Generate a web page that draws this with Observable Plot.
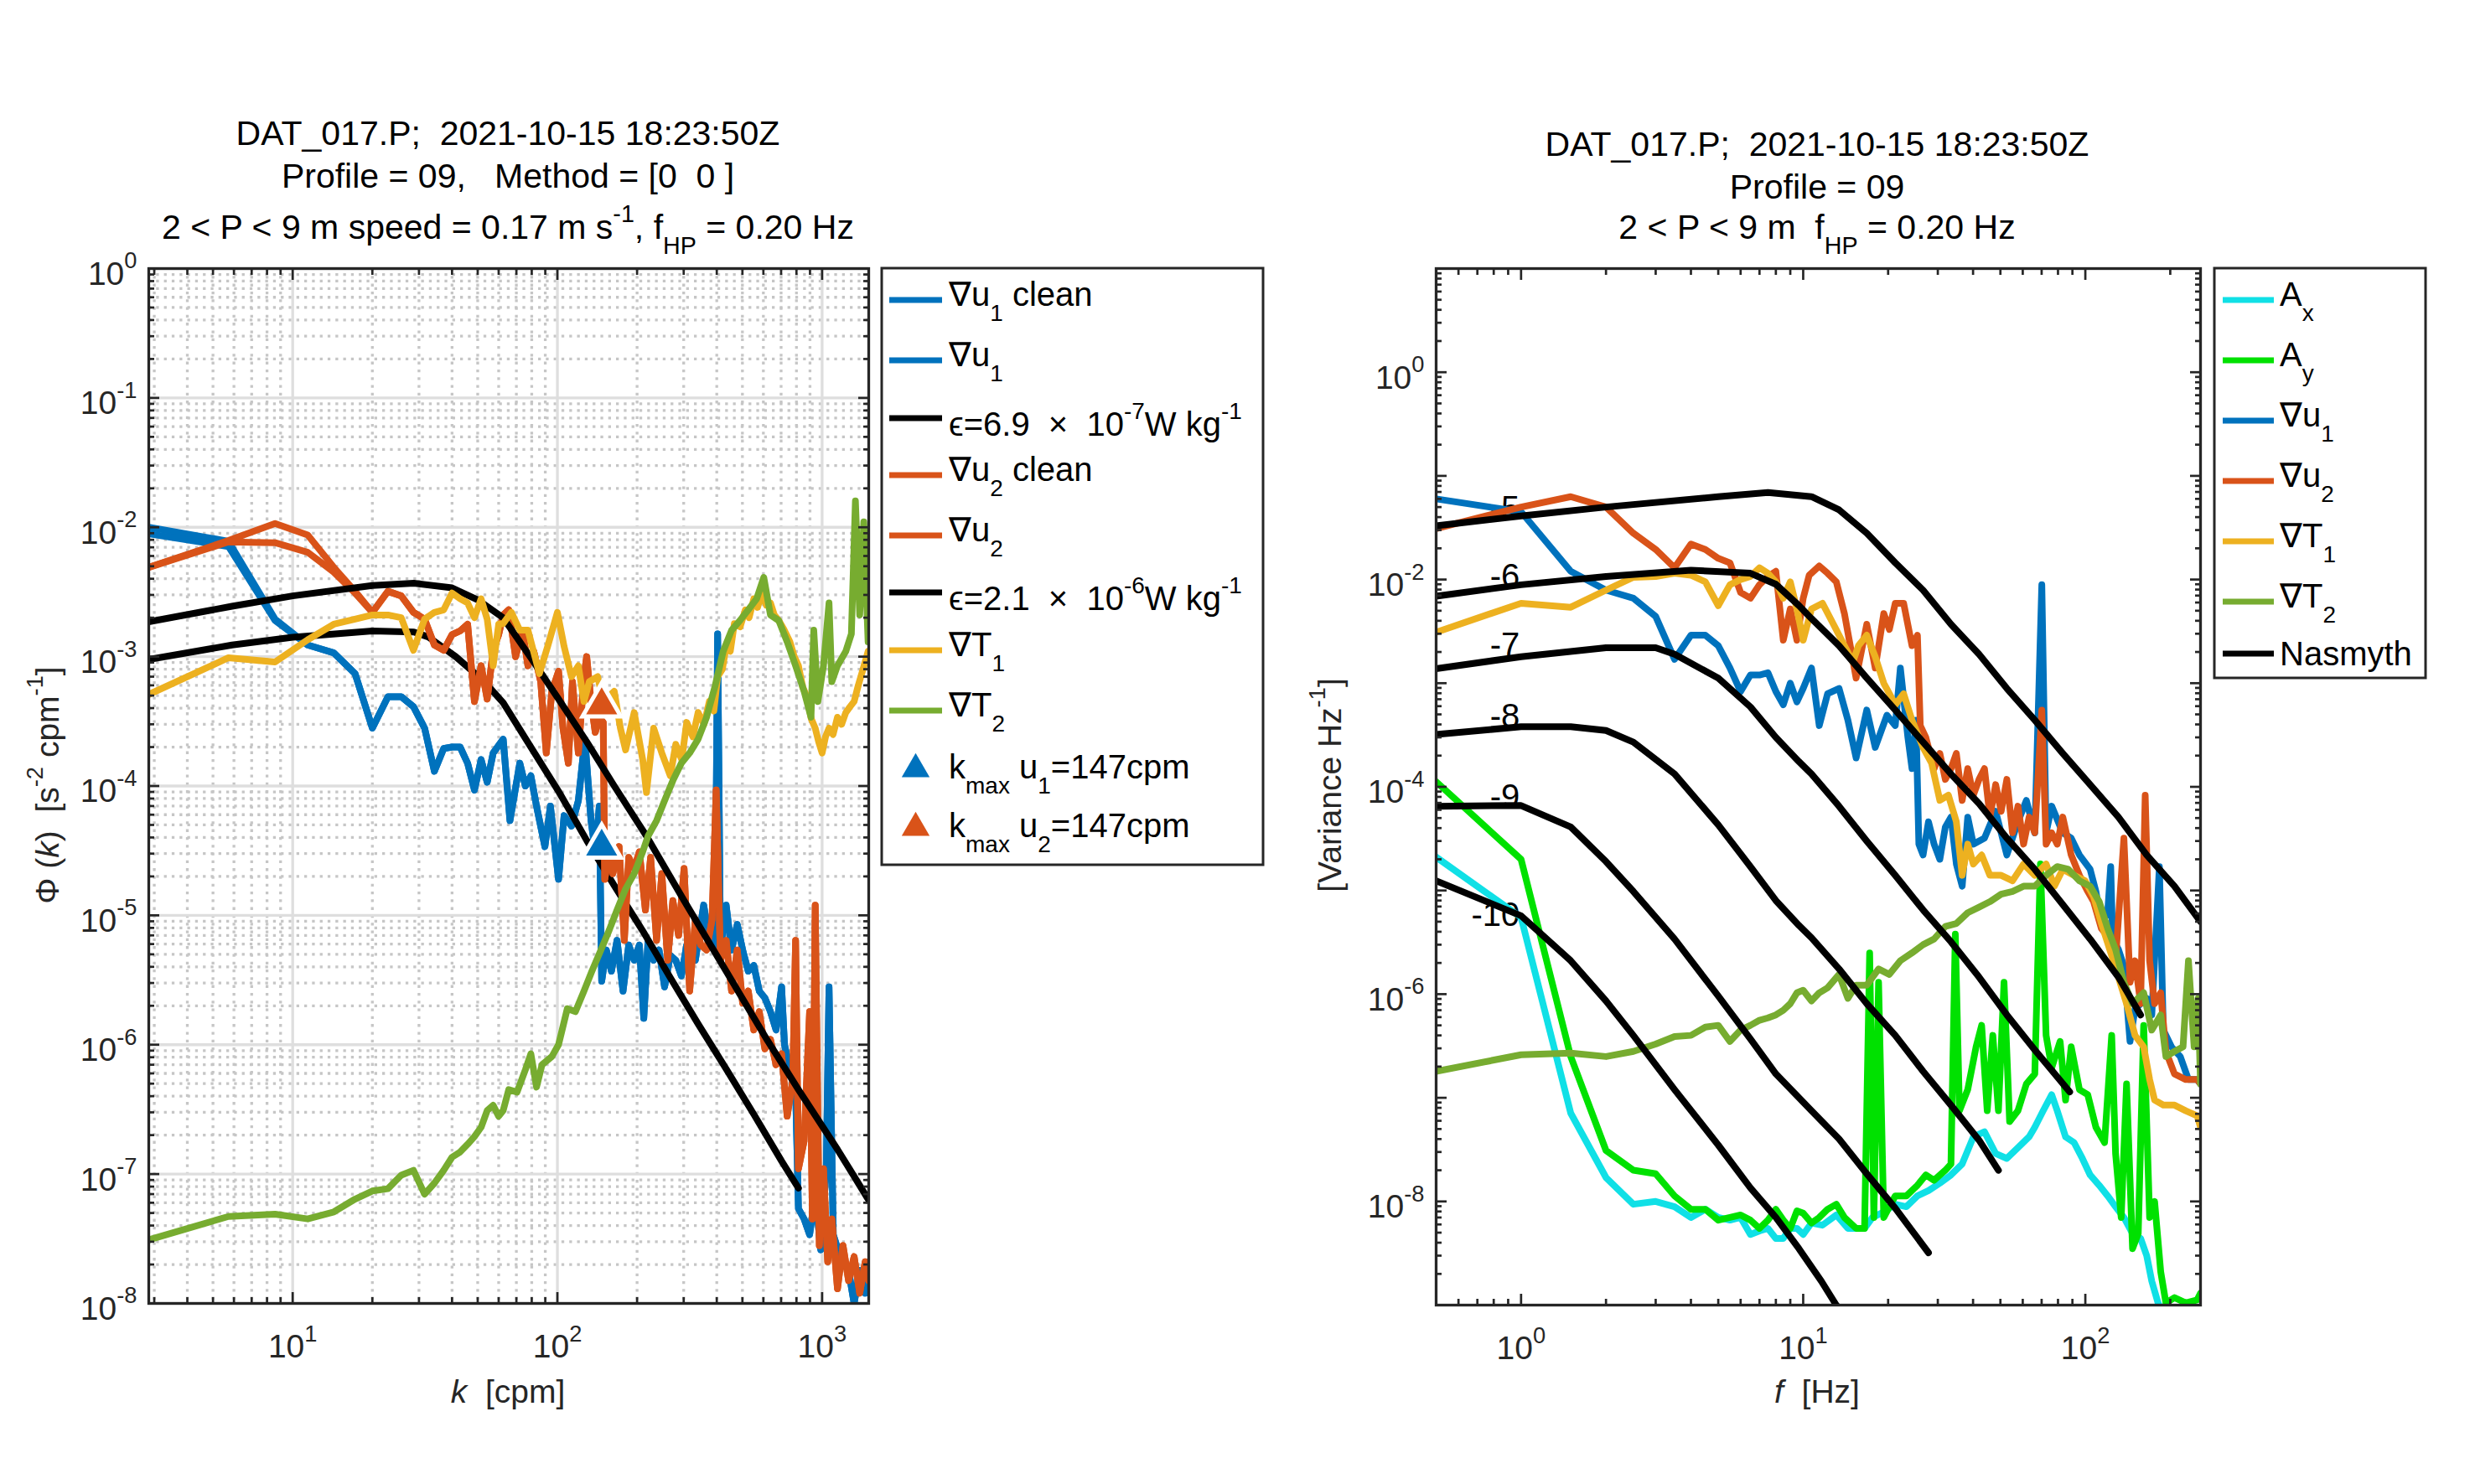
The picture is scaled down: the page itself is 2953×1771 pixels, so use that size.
<!DOCTYPE html>
<html><head><meta charset="utf-8">
<script src="https://cdn.jsdelivr.net/npm/d3@7"></script>
<script src="https://cdn.jsdelivr.net/npm/@observablehq/plot@0.6"></script>
<style>
html,body{margin:0;padding:0;background:#fff;}
#page{position:relative;width:2953px;height:1771px;overflow:hidden;background:#fff;}
#page svg{position:absolute;top:0;}
</style></head><body><div id="page"></div>
<script>
// ================= DATA =================
// ---- Left panel: shear / temperature-gradient wavenumber spectra, [k (cpm), Phi] ----
const u1Clean = [[2.86,1.0e-2],[5.72,7.8e-3],[8.58,1.95e-3],[11.4,1.23e-3],[14.3,1.07e-3],[17.2,7.4e-4],[20.0,2.8e-4],[22.9,4.9e-4],[25.7,4.9e-4],[28.6,4.1e-4],[31.5,2.8e-4],[34.3,1.3e-4],[37.2,1.95e-4],[40.0,2.0e-4],[42.9,2.0e-4],[45.8,1.5e-4],[48.6,9.3e-5],[51.5,1.6e-4],[54.3,1.07e-4],[57.2,1.8e-4],[62.4,2.3e-4],[66.2,5.4e-5],[72.1,1.5e-4],[75.7,1.0e-4],[79.4,1.2e-4],[83.4,7.0e-5],[89.7,3.4e-5],[94.1,7.0e-5],[101,1.9e-5],[106,5.9e-5],[113,4.9e-5],[120,7.7e-5],[127,2.3e-4],[134,5.4e-5],[139,3.1e-5],[144,7.0e-5],[147,3.1e-6],[153,5.4e-6],[160,3.7e-6],[168,6.4e-6],[177,2.6e-6],[186,5.9e-6],[195,4.5e-6],[204,5.9e-6],[212,1.6e-6],[220,6.4e-6],[231,4.5e-6],[242,5.4e-6],[254,2.8e-6],[267,4.9e-6],[280,4.5e-6],[294,3.4e-6],[308,5.9e-6],[332,4.5e-6],[357,1.2e-5],[375,6.4e-6],[394,5.4e-6],[403,1.5e-3],[413,5.4e-6],[434,1.2e-5],[455,5.4e-6],[478,8.5e-6],[501,5.4e-6],[526,3.7e-6],[552,4.1e-6],[579,2.6e-6],[608,2.3e-6],[638,1.8e-6],[670,1.3e-6],[703,2.8e-6],[721,1.0e-6],[756,6.4e-7],[794,4.5e-7],[814,5.4e-8],[855,4.5e-8],[897,3.4e-8],[942,7.0e-8],[988,2.6e-8],[1037,1.1e-7],[1062,2.8e-6],[1102,3.4e-8],[1170,2.3e-8],[1259,1.8e-8],[1321,1.0e-8],[1387,1.8e-8],[1455,1.2e-8],[1500,2.1e-8]];
const u1RawLow = [[2.86,8.9e-3],[5.72,7.1e-3],[8.58,1.9e-3]];
const u2Clean = [[2.86,4.9e-3],[5.72,7.9e-3],[8.58,1.07e-2],[11.4,8.7e-3],[14.3,4.9e-3],[17.2,3.2e-3],[20.0,2.2e-3],[22.9,3.2e-3],[25.7,2.95e-3],[28.6,2.2e-3],[31.5,1.95e-3],[34.3,1.23e-3],[37.2,1.12e-3],[40.0,1.48e-3],[42.9,1.58e-3],[45.8,1.78e-3],[48.6,4.5e-4],[51.5,8.5e-4],[54.3,4.7e-4],[57.2,1.12e-3],[60.0,1.48e-3],[62.4,2.1e-3],[65.5,2.3e-3],[69.5,1.0e-3],[73.8,1.6e-3],[77.4,8.5e-4],[81.4,1.1e-3],[86.5,6.4e-4],[90.8,1.8e-4],[95.3,5.4e-4],[101,7.7e-4],[105,2.8e-4],[110,1.5e-4],[114,6.4e-4],[120,1.8e-4],[126,7.0e-4],[129,1.0e-3],[134,4.5e-4],[139,2.6e-4],[144,3.4e-4],[149,3.1e-4],[151,1.9e-5],[157,3.1e-5],[162,2.1e-5],[171,3.4e-5],[179,6.4e-6],[186,2.8e-5],[195,2.3e-5],[204,3.1e-5],[215,1.1e-5],[225,2.8e-5],[237,6.4e-6],[248,2.1e-5],[261,4.5e-6],[273,1.3e-5],[287,7.0e-6],[301,2.3e-5],[316,2.6e-6],[332,9.3e-6],[348,5.9e-6],[366,5.4e-6],[384,9.3e-6],[398,9.3e-5],[413,4.5e-6],[434,6.4e-6],[455,2.6e-6],[478,5.4e-6],[501,2.1e-6],[526,2.6e-6],[552,1.3e-6],[579,1.8e-6],[608,9.3e-7],[638,1.1e-6],[670,7.0e-7],[703,8.5e-7],[738,2.8e-7],[775,5.4e-7],[794,6.4e-6],[814,1.1e-7],[855,1.8e-7],[897,1.8e-6],[919,4.5e-8],[942,1.2e-5],[976,2.8e-8],[1012,1.1e-7],[1050,2.1e-8],[1088,4.5e-8],[1143,1.3e-8],[1199,2.8e-8],[1259,1.5e-8],[1321,2.3e-8],[1387,1.2e-8],[1455,2.1e-8],[1500,1.5e-8]];
const u2RawLow = [[2.86,4.9e-3],[5.72,7.7e-3],[8.58,7.6e-3],[11.4,6.4e-3],[14.3,4.5e-3],[17.2,3.1e-3]];
const t1Left = [[2.86,5.1e-4],[5.72,9.8e-4],[8.58,9.1e-4],[11.4,1.35e-3],[14.3,1.78e-3],[17.2,1.95e-3],[20.0,2.1e-3],[22.9,2.1e-3],[25.7,2.0e-3],[28.6,1.12e-3],[31.5,1.95e-3],[34.3,2.2e-3],[37.2,2.3e-3],[40.0,3.1e-3],[42.9,2.8e-3],[45.8,2.6e-3],[48.6,2.0e-3],[51.5,2.8e-3],[54.3,1.95e-3],[57.2,8.5e-4],[60.0,1.78e-3],[62.4,1.8e-3],[67,2.2e-3],[72.1,1.6e-3],[77.4,1.6e-3],[85.5,7.4e-4],[91.9,1.2e-3],[100,2.2e-3],[106,1.2e-3],[113,7.0e-4],[120,8.5e-4],[126,4.5e-4],[132,6.4e-4],[142,7.0e-4],[149,4.5e-4],[164,5.4e-4],[173,2.8e-4],[181,1.9e-4],[195,3.7e-4],[210,1.6e-4],[217,8.9e-5],[231,2.8e-4],[248,1.8e-4],[267,1.2e-4],[280,2.1e-4],[295,1.6e-4],[308,3.1e-4],[325,2.4e-4],[340,3.7e-4],[358,3.0e-4],[375,4.5e-4],[390,3.8e-4],[403,7.0e-4],[420,8.0e-4],[434,1.2e-3],[450,1.1e-3],[466,1.8e-3],[490,1.7e-3],[513,2.3e-3],[530,2.0e-3],[552,2.8e-3],[570,2.4e-3],[593,3.1e-3],[615,2.5e-3],[638,2.6e-3],[660,2.1e-3],[686,1.9e-3],[720,1.6e-3],[756,1.3e-3],[785,1.0e-3],[814,8.5e-4],[845,5.8e-4],[876,4.9e-4],[910,3.3e-4],[942,2.8e-4],[970,2.2e-4],[1000,1.8e-4],[1030,2.4e-4],[1062,2.8e-4],[1100,2.5e-4],[1143,3.4e-4],[1185,3.0e-4],[1229,3.7e-4],[1275,4.1e-4],[1321,4.5e-4],[1370,6.0e-4],[1420,7.7e-4],[1492,1.1e-3]];
const t2Left = [[2.86,3.1e-8],[5.72,4.7e-8],[8.58,4.9e-8],[11.4,4.5e-8],[14.3,5.1e-8],[17.2,6.4e-8],[20.0,7.4e-8],[22.9,7.7e-8],[25.7,9.8e-8],[28.6,1.07e-7],[31.5,7.0e-8],[34.3,8.5e-8],[37.2,1.07e-7],[40.0,1.35e-7],[42.9,1.48e-7],[45.8,1.7e-7],[48.6,1.95e-7],[51.5,2.3e-7],[54.3,3.1e-7],[57.2,3.4e-7],[60.0,2.8e-7],[62.4,3.1e-7],[65.5,4.5e-7],[70.4,4.3e-7],[75.7,6.4e-7],[79.4,8.5e-7],[83.4,4.7e-7],[87.5,7.0e-7],[95.3,8.1e-7],[101,1.0e-6],[109,1.9e-6],[117,1.8e-6],[126,2.6e-6],[135,3.7e-6],[146,5.4e-6],[157,7.7e-6],[168,1.1e-5],[181,1.6e-5],[195,2.1e-5],[210,3.1e-5],[220,4.1e-5],[237,5.4e-5],[254,7.7e-5],[273,1.1e-4],[294,1.5e-4],[316,1.8e-4],[340,2.3e-4],[366,3.4e-4],[394,5.9e-4],[423,1.1e-3],[455,1.6e-3],[489,1.9e-3],[526,2.3e-3],[566,2.8e-3],[602,4.1e-3],[638,2.1e-3],[686,1.9e-3],[738,1.3e-3],[794,8.5e-4],[855,5.4e-4],[908,3.4e-4],[930,1.6e-3],[964,4.5e-4],[1012,8.5e-4],[1062,2.6e-3],[1088,6.4e-4],[1143,8.5e-4],[1229,1.1e-3],[1290,1.5e-3],[1336,1.6e-2],[1387,2.1e-3],[1437,1.1e-2],[1492,1.3e-3]];
const eps1Left = [[2.86,9.5e-4],[5.9,1.23e-3],[10,1.41e-3],[20,1.58e-3],[28.7,1.55e-3],[32.5,1.42e-3],[41.3,1.0e-3],[52.6,6.5e-4],[62.4,4.4e-4],[79.4,2.0e-4],[101,9.1e-5],[129,3.8e-5],[164,1.7e-5],[210,7.6e-6],[267,3.3e-6],[340,1.45e-6],[434,6.5e-7],[552,2.9e-7],[703,1.26e-7],[814,7.8e-8]];
const eps2Left = [[2.86,1.86e-3],[5.9,2.45e-3],[10,2.95e-3],[20,3.55e-3],[28.7,3.7e-3],[40,3.4e-3],[50,2.75e-3],[62.4,2.0e-3],[79.4,9.8e-4],[101,4.7e-4],[129,2.2e-4],[164,1.0e-4],[217,4.1e-5],[301,1.3e-5],[434,3.7e-6],[623,1.07e-6],[814,4.5e-7],[1143,1.55e-7],[1492,6.4e-8]];
const kmaxU1 = [[147, 3.4e-5]];
const kmaxU2 = [[147, 4.2e-4]];

// ---- Right panel: frequency spectra, [f (Hz), variance/Hz] ----
const axRight = [[0.5,2.1e-5],[1.0,5.5e-6],[1.5,7.1e-8],[2.0,1.7e-8],[2.5,9.4e-9],[3.0,1.0e-8],[3.5,8.9e-9],[4.0,7.0e-9],[4.5,8.4e-9],[5.0,7.0e-9],[5.5,6.6e-9],[6.0,7.0e-9],[6.5,4.8e-9],[7.0,5.2e-9],[7.5,5.5e-9],[8.0,4.4e-9],[8.5,4.4e-9],[9.0,5.5e-9],[9.5,5.5e-9],[10,4.8e-9],[10.7,6.2e-9],[11.7,5.9e-9],[13.1,7.4e-9],[14.4,5.5e-9],[16.5,5.5e-9],[17.6,7.0e-9],[19.3,7.9e-9],[21.2,9.4e-9],[23.2,8.9e-9],[25.4,1.13e-8],[27.8,1.27e-8],[30.5,1.5e-8],[33.4,1.8e-8],[36.6,2.3e-8],[40.1,4.2e-8],[43.9,4.7e-8],[48.1,2.9e-8],[52.7,2.6e-8],[57.7,3.3e-8],[63.2,4.2e-8],[66.2,5.2e-8],[70.9,7.5e-8],[76.0,1.07e-7],[79.5,7.5e-8],[85.1,4.2e-8],[91.2,3.7e-8],[97.6,2.6e-8],[104,1.8e-8],[112,1.43e-8],[120,1.13e-8],[128,8.9e-9],[137,7.0e-9],[147,4.9e-9],[157,4.4e-9],[165,3.0e-9],[172,1.7e-9],[181,1.05e-9],[189,8.3e-10],[256,8.3e-10]];
const ayRight = [[0.5,1.12e-4],[1.0,2.0e-5],[1.5,2.5e-7],[2.0,3.1e-8],[2.5,2.0e-8],[3.0,1.85e-8],[3.5,1.13e-8],[4.0,8.4e-9],[4.5,8.4e-9],[5.0,6.6e-9],[5.5,7.0e-9],[6.0,7.4e-9],[6.5,6.6e-9],[7.0,5.5e-9],[7.5,6.6e-9],[8.0,8.4e-9],[8.5,6.6e-9],[9.0,5.5e-9],[9.5,8.1e-9],[10,7.7e-9],[10.7,6.2e-9],[11.4,7.0e-9],[12.2,8.4e-9],[13.1,9.4e-9],[14.0,7.0e-9],[15.4,5.5e-9],[16.5,5.5e-9],[17.2,2.5e-6],[17.8,7.0e-9],[18.5,1.3e-6],[19.3,7.0e-9],[20.2,8.9e-9],[21.2,1.13e-8],[23.2,1.13e-8],[25.4,1.43e-8],[27.2,1.8e-8],[29.1,1.6e-8],[31.9,2.0e-8],[33.4,2.3e-8],[34.6,3.8e-6],[35.8,7.5e-8],[38.3,1.2e-7],[41.0,3.1e-7],[42.9,5.0e-7],[44.9,7.5e-8],[47.0,4.0e-7],[49.2,7.5e-8],[51.5,1.3e-6],[53.9,5.9e-8],[57.7,7.5e-8],[61.8,1.36e-7],[66.2,1.7e-7],[69.3,1.8e-5],[72.6,4.0e-7],[76.0,1.95e-7],[81.4,3.5e-7],[85.1,9.5e-8],[89.1,3.1e-7],[95.3,1.2e-7],[102,1.07e-7],[109,5.2e-8],[117,3.7e-8],[124,4.0e-7],[128,2.9e-8],[134,7.0e-9],[140,1.36e-7],[147,3.5e-9],[154,4.9e-9],[161,5.0e-7],[169,7.0e-9],[176,1.0e-8],[185,2.1e-9],[193,1.05e-9],[207,1.18e-9],[227,1.05e-9],[249,1.12e-9],[256,1.3e-9]];
const u1Right = [[0.5,6.0e-2],[1.0,4.5e-2],[1.5,1.2e-2],[2.0,7.9e-3],[2.5,6.6e-3],[3.0,4.4e-3],[3.5,1.7e-3],[4.0,2.9e-3],[4.5,2.9e-3],[5.0,2.3e-3],[5.5,1.4e-3],[6.0,8.3e-4],[6.5,1.2e-3],[7.0,1.2e-3],[7.5,1.26e-3],[8.0,8.3e-4],[8.5,6.2e-4],[9.0,1.0e-3],[9.5,6.6e-4],[10,8.9e-4],[10.7,1.4e-3],[11.4,3.9e-4],[12.2,7.9e-4],[13.4,8.9e-4],[14.4,4.4e-4],[15.4,1.9e-4],[16.8,5.5e-4],[18.0,2.4e-4],[19.8,4.9e-4],[21.2,3.9e-4],[22.1,1.4e-3],[23.5,3.0e-4],[24.3,1.5e-4],[25.1,4.4e-4],[25.7,2.8e-5],[26.6,2.2e-5],[27.8,4.6e-5],[29.1,2.8e-5],[30.5,2.0e-5],[31.9,4.1e-5],[33.4,5.1e-5],[34.9,1.8e-5],[36.6,1.1e-5],[38.3,5.1e-5],[40.1,2.8e-5],[43.9,3.2e-5],[48.1,5.8e-5],[52.7,2.2e-5],[57.7,4.6e-5],[61.8,7.4e-5],[66.2,3.6e-5],[70.1,8.9e-3],[72.6,3.6e-5],[76.0,6.5e-5],[83.2,3.6e-5],[89.1,3.2e-5],[95.3,2.2e-5],[104,1.6e-5],[109,9.8e-6],[114,4.8e-6],[120,6.1e-6],[123,1.7e-5],[125,3.4e-6],[131,2.7e-6],[137,1.86e-6],[144,3.5e-7],[150,7.2e-7],[165,9.1e-7],[172,6.3e-7],[183,1.7e-5],[189,4.5e-7],[202,3.1e-7],[217,2.5e-7],[232,1.5e-7],[249,1.5e-7],[256,1.36e-7]];
const u2Right = [[0.5,3.1e-2],[1.0,5.0e-2],[1.5,6.3e-2],[2.0,5.0e-2],[2.5,2.8e-2],[3.0,1.95e-2],[3.5,1.3e-2],[4.0,2.2e-2],[4.5,1.95e-2],[5.0,1.6e-2],[5.5,1.45e-2],[6.0,7.5e-3],[6.5,6.6e-3],[7.0,8.9e-3],[7.5,1.07e-2],[8.0,1.2e-2],[8.5,2.6e-3],[9.0,5.2e-3],[9.5,2.6e-3],[10,6.6e-3],[10.5,1.1e-2],[11.4,1.35e-2],[12.2,1.15e-2],[13.1,9.5e-3],[14.0,4.7e-3],[15.4,1.12e-3],[16.8,3.7e-3],[18.0,1.4e-3],[19.3,4.7e-3],[20.2,3.3e-3],[21.2,5.9e-3],[22.7,5.9e-3],[24.3,2.3e-3],[25.4,2.9e-3],[26.0,3.9e-4],[27.2,3.0e-4],[29.1,1.5e-4],[30.5,2.1e-4],[31.9,1.18e-4],[33.4,1.5e-4],[34.9,2.1e-4],[36.6,7.4e-5],[38.3,1.5e-4],[40.1,8.3e-5],[42.0,1.18e-4],[43.9,1.5e-4],[45.9,5.1e-5],[48.1,1.05e-4],[50.3,5.8e-5],[52.7,1.18e-4],[55.2,3.6e-5],[57.7,6.5e-5],[60.4,2.8e-5],[63.2,5.1e-5],[66.2,3.6e-5],[70.1,5.5e-4],[72.6,2.8e-5],[76.0,3.6e-5],[79.5,2.8e-5],[83.2,5.1e-5],[89.1,2.2e-5],[95.3,1.4e-5],[102,9.8e-6],[107,7.8e-6],[114,4.3e-6],[122,3.4e-6],[128,2.1e-6],[137,3.2e-5],[144,1.3e-6],[150,2.1e-6],[157,8.1e-7],[163,8.3e-5],[169,2.1e-6],[176,8.1e-7],[185,1.03e-6],[193,2.8e-7],[207,1.7e-7],[227,1.5e-7],[249,1.5e-7],[256,1.36e-7]];
const t1Right = [[0.5,3.1e-3],[1.0,5.9e-3],[1.5,5.4e-3],[2.0,7.9e-3],[2.5,1.05e-2],[3.0,1.07e-2],[3.5,1.15e-2],[4.0,1.1e-2],[4.5,9.5e-3],[5.0,5.6e-3],[5.5,8.9e-3],[6.0,1.0e-2],[6.5,1.07e-2],[7.0,1.3e-2],[7.5,1.15e-2],[8.0,9.5e-3],[8.5,6.6e-3],[9.0,9.5e-3],[9.5,5.2e-3],[10,2.6e-3],[10.7,5.2e-3],[11.7,5.9e-3],[12.8,3.7e-3],[14.0,2.3e-3],[15.0,1.6e-3],[15.7,2.3e-3],[16.8,2.9e-3],[18.0,1.8e-3],[19.3,1.0e-3],[21.2,6.2e-4],[22.7,7.9e-4],[24.3,4.4e-4],[26.6,2.4e-4],[28.5,1.7e-4],[30.5,7.4e-5],[32.7,8.3e-5],[34.9,4.6e-5],[36.6,1.4e-5],[38.3,2.8e-5],[40.1,1.8e-5],[42.9,2.2e-5],[45.9,1.4e-5],[50.3,1.4e-5],[55.2,1.24e-5],[60.4,1.8e-5],[66.2,1.4e-5],[72.6,1.8e-5],[77.7,1.1e-5],[83.2,1.6e-5],[91.2,1.4e-5],[99.8,1.24e-5],[107,8.7e-6],[114,4.8e-6],[122,2.7e-6],[131,1.46e-6],[140,8.1e-7],[150,4.0e-7],[161,3.1e-7],[169,1.5e-7],[176,9.5e-8],[189,8.5e-8],[207,8.5e-8],[227,7.5e-8],[249,6.7e-8],[256,5.2e-8]];
const t2Right = [[0.5,1.8e-7],[1.0,2.6e-7],[1.5,2.7e-7],[2.0,2.5e-7],[2.5,2.8e-7],[3.0,3.3e-7],[3.5,3.9e-7],[4.0,4.0e-7],[4.5,4.8e-7],[5.0,5.0e-7],[5.5,3.5e-7],[6.0,4.5e-7],[6.5,5.0e-7],[7.0,5.6e-7],[7.5,5.9e-7],[8.0,6.3e-7],[8.5,7.0e-7],[9.0,8.1e-7],[9.5,1.03e-6],[10,1.09e-6],[10.7,8.6e-7],[11.4,1.03e-6],[12.2,1.15e-6],[13.4,1.55e-6],[14.4,9.1e-7],[15.4,1.22e-6],[16.8,1.22e-6],[18.5,1.75e-6],[20.2,1.55e-6],[22.1,2.1e-6],[24.3,2.5e-6],[26.6,3.0e-6],[29.1,3.4e-6],[31.9,4.5e-6],[34.9,4.8e-6],[38.3,6.1e-6],[42.0,6.9e-6],[45.9,7.8e-6],[50.3,9.2e-6],[55.2,9.8e-6],[60.4,1.1e-5],[66.2,1.1e-5],[72.6,1.4e-5],[79.5,1.7e-5],[87.1,1.6e-5],[95.3,1.24e-5],[104,1.1e-5],[112,7.8e-6],[120,4.3e-6],[128,2.7e-6],[137,1.3e-6],[147,8.1e-7],[161,1.03e-6],[172,4.5e-7],[185,6.3e-7],[193,2.5e-7],[207,2.8e-7],[222,3.1e-7],[232,2.1e-6],[243,3.1e-7],[251,9.1e-7],[256,1.36e-7]];
// Nasmyth reference spectra, log10(epsilon) = -5 ... -10
const nasm5 = [[0.5,3.3e-2],[1.0,4.1e-2],[2.0,5.0e-2],[5.0,6.3e-2],[7.5,6.9e-2],[10.7,6.3e-2],[13.4,4.7e-2],[16.8,2.8e-2],[21.2,1.45e-2],[26.6,7.9e-3],[33.4,3.7e-3],[42.0,1.9e-3],[52.7,8.9e-4],[66.2,4.4e-4],[83.2,2.1e-4],[104,1.05e-4],[131,5.1e-5],[165,2.2e-5],[207,1.1e-5],[256,5.0e-6]];
const nasm6 = [[0.5,6.9e-3],[1.0,8.9e-3],[2.0,1.07e-2],[4.0,1.23e-2],[6.5,1.15e-2],[8.0,9.0e-3],[9.66,5.6e-3],[10.7,4.2e-3],[13.4,2.3e-3],[16.8,1.12e-3],[21.2,5.5e-4],[26.6,2.7e-4],[33.4,1.33e-4],[42.0,6.9e-5],[52.7,3.2e-5],[66.2,1.6e-5],[83.2,7.3e-6],[104,3.4e-6],[131,1.46e-6],[157,6.3e-7]];
const nasm7 = [[0.5,1.38e-3],[1.0,1.8e-3],[2.0,2.2e-3],[3.0,2.2e-3],[3.5,1.9e-3],[5.0,1.12e-3],[6.5,5.9e-4],[8.0,3.0e-4],[9.66,1.75e-4],[10.7,1.33e-4],[13.4,6.5e-5],[16.8,3.0e-5],[21.2,1.4e-5],[26.6,6.5e-6],[33.4,3.2e-6],[42.0,1.46e-6],[52.7,6.3e-7],[66.2,2.9e-7],[88,1.14e-7]];
const nasm8 = [[0.5,3.2e-4],[1.0,3.8e-4],[1.5,3.8e-4],[2.0,3.5e-4],[2.5,2.7e-4],[3.5,1.33e-4],[5.0,4.3e-5],[6.5,1.7e-5],[8.0,8.0e-6],[9.66,4.6e-6],[10.7,3.5e-6],[13.4,1.75e-6],[16.8,8.1e-7],[21.2,4.0e-7],[26.6,1.8e-7],[33.4,8.5e-8],[42.0,3.9e-8],[49.2,2.0e-8]];
const nasm9 = [[0.5,6.5e-5],[1.0,6.6e-5],[1.5,4.1e-5],[2.0,1.9e-5],[2.5,9.8e-6],[3.5,3.4e-6],[5.0,9.6e-7],[6.5,3.7e-7],[8.0,1.7e-7],[10.7,7.5e-8],[13.4,4.0e-8],[16.8,1.85e-8],[21.2,8.6e-9],[27.8,3.2e-9]];
const nasm10 = [[0.5,1.24e-5],[1.0,5.7e-6],[1.5,2.1e-6],[2.0,8.6e-7],[2.5,4.0e-7],[3.5,1.2e-7],[5.0,3.5e-8],[6.5,1.35e-8],[8.0,7.0e-9],[9.66,3.5e-9],[11.6,1.7e-9],[13.1,1.0e-9],[14.5,7.0e-10]];
const nasmLabels = ["-5","-6","-7","-8","-9","-10"];
const nasmLabelF = [0.99,0.99,0.99,0.99,0.99,0.99];
const nasmLabelV = [4.8e-2,1.07e-2,2.3e-3,4.8e-4,7.9e-5,5.8e-6];

// ---- Tick values ----
const leftXLabelTicks = [10,100,1000];
const leftYLabelTicks = [1e-8,1e-7,1e-6,1e-5,1e-4,1e-3,1e-2,1e-1,1];
const rightXLabelTicks = [1,10,100];
const rightYLabelTicks = [1e-8,1e-6,1e-4,1e-2,1];
const rightYMajorTicks = [1e-9,1e-8,1e-7,1e-6,1e-5,1e-4,1e-3,1e-2,1e-1,1,10];

// ---- Texts ----
const leftTitle = ["DAT_017.P;  2021-10-15 18:23:50Z","Profile = 09,   Method = [0  0 ]","2 < P < 9 m speed = 0.17 m s^{-1}, f_{HP} = 0.20 Hz"];
const rightTitle = ["DAT_017.P;  2021-10-15 18:23:50Z","Profile = 09","2 < P < 9 m  f_{HP} = 0.20 Hz"];
const leftLegendLabels = ["∇u_{1} clean","∇u_{1}","ϵ=6.9  ×  10^{-7}W kg^{-1}","∇u_{2} clean","∇u_{2}","ϵ=2.1  ×  10^{-6}W kg^{-1}","∇T_{1}","∇T_{2}","k_{max} u_{1}=147cpm","k_{max} u_{2}=147cpm"];
const rightLegendLabels = ["A_{x}","A_{y}","∇u_{1}","∇u_{2}","∇T_{1}","∇T_{2}","Nasmyth"];

// ================= STYLE =================
const C = {blue:"#0072BD", orange:"#D95319", yellow:"#EDB120", green:"#77AC30", cyan:"#10E0E6", lime:"#00E100", black:"#000000"};
const FONT = "'Liberation Sans', Arial, Helvetica, sans-serif";
const AX = "#262626";
const LW = 8, LWB = 8;
const TICKFS = 39;

function minorTicks(min, max) {
  const out = [];
  for (let e = Math.floor(Math.log10(min)); e <= Math.ceil(Math.log10(max)); e++)
    for (let m = 2; m <= 9; m++) { const v = m * Math.pow(10, e); if (v > min * 1.0001 && v < max / 1.0001) out.push(v); }
  return out;
}
const sup10 = d => "10^{" + Math.round(Math.log10(d)) + "}";

function frameTicks(xMajor, xMinor, yMajor, yMinor) {
  const base = {stroke: AX, strokeWidth: 2.7, tickFormat: () => "", label: null};
  const out = [];
  for (const [ticks, len] of [[xMajor, 13], [xMinor, 7]]) {
    out.push(Plot.axisX({...base, anchor: "bottom", ticks, tickSize: len, dy: -len}));
    out.push(Plot.axisX({...base, anchor: "top", ticks, tickSize: len, dy: len}));
  }
  for (const [ticks, len] of [[yMajor, 13], [yMinor, 7]]) {
    out.push(Plot.axisY({...base, anchor: "left", ticks, tickSize: len, dx: len}));
    out.push(Plot.axisY({...base, anchor: "right", ticks, tickSize: len, dx: -len}));
  }
  return out;
}
const line = (data, stroke, w = LW) => Plot.line(data, {x: d => d[0], y: d => d[1], stroke, strokeWidth: w, clip: true, strokeLinejoin: "round"});

// ================= LEFT PANEL =================
const LX = [2.86, 1500], LY = [1e-8, 1];
const minorGrid = {stroke: "#c6c6c6", strokeOpacity: 1, strokeWidth: 3.3, strokeDasharray: "3.3,6"};
const leftPlot = Plot.plot({
  width: 1050, height: 1771,
  marginLeft: 177, marginRight: 14, marginTop: 320, marginBottom: 216,
  x: {type: "log", domain: LX},
  y: {type: "log", domain: LY},
  style: {fontFamily: FONT, color: AX, background: "transparent", overflow: "visible"},
  marks: [
    Plot.gridX({ticks: minorTicks(...LX), ...minorGrid}),
    Plot.gridY({ticks: minorTicks(...LY), ...minorGrid}),
    Plot.gridX({ticks: leftXLabelTicks, stroke: "#dedede", strokeOpacity: 1, strokeWidth: 3.3}),
    Plot.gridY({ticks: leftYLabelTicks, stroke: "#dedede", strokeOpacity: 1, strokeWidth: 3.3}),
    line(u1Clean, C.blue),
    line(u1RawLow.concat(u1Clean.slice(3)), C.blue),
    line(eps1Left, C.black, LWB),
    line(u2Clean, C.orange),
    line(u2RawLow.concat(u2Clean.slice(6)), C.orange),
    line(eps2Left, C.black, LWB),
    line(t1Left, C.yellow),
    line(t2Left, C.green),
    Plot.dot(kmaxU2, {x: d => d[0], y: d => d[1], symbol: "triangle", r: 17, fill: C.orange, stroke: "white", strokeWidth: 5}),
    Plot.dot(kmaxU1, {x: d => d[0], y: d => d[1], symbol: "triangle", r: 17, fill: C.blue, stroke: "white", strokeWidth: 5}),
    Plot.frame({stroke: AX, strokeWidth: 3.3}),
    ...frameTicks(leftXLabelTicks, minorTicks(...LX), leftYLabelTicks, minorTicks(...LY)),
    Plot.axisX({anchor: "bottom", ticks: leftXLabelTicks, tickSize: 0, tickPadding: 37, tickFormat: sup10, label: null, fontSize: TICKFS}),
    Plot.axisY({anchor: "left", ticks: leftYLabelTicks, tickSize: 0, tickPadding: 14, dy: 7, tickFormat: sup10, label: null, fontSize: TICKFS})
  ]
});

// ================= RIGHT PANEL =================
const RX = [0.5, 256], RY = [1e-9, 10];
const rightPlot = Plot.plot({
  width: 1140, height: 1771,
  marginLeft: 213, marginRight: 15, marginTop: 320, marginBottom: 214,
  x: {type: "log", domain: RX},
  y: {type: "log", domain: RY},
  style: {fontFamily: FONT, color: AX, background: "transparent", overflow: "visible"},
  marks: [
    Plot.text(nasmLabels, {x: (d, i) => nasmLabelF[i], y: (d, i) => nasmLabelV[i], text: d => d, textAnchor: "end", fontSize: 40, fill: "#000"}),
    line(axRight, C.cyan),
    line(ayRight, C.lime),
    line(u1Right, C.blue),
    line(u2Right, C.orange),
    line(t1Right, C.yellow),
    line(t2Right, C.green),
    line(nasm5, C.black, LWB),
    line(nasm6, C.black, LWB),
    line(nasm7, C.black, LWB),
    line(nasm8, C.black, LWB),
    line(nasm9, C.black, LWB),
    line(nasm10, C.black, LWB),
    Plot.frame({stroke: AX, strokeWidth: 3.3}),
    ...frameTicks(rightXLabelTicks, minorTicks(...RX), rightYMajorTicks, minorTicks(...RY)),
    Plot.axisX({anchor: "bottom", ticks: rightXLabelTicks, tickSize: 0, tickPadding: 37, tickFormat: sup10, label: null, fontSize: TICKFS}),
    Plot.axisY({anchor: "left", ticks: rightYLabelTicks, tickSize: 0, tickPadding: 14, dy: 7, tickFormat: sup10, label: null, fontSize: TICKFS})
  ]
});

const page = document.getElementById("page");
leftPlot.style.left = "0px";
rightPlot.style.left = "1500px";
page.appendChild(leftPlot);
page.appendChild(rightPlot);

// ---- rich text: _{sub} ^{sup} ~{italic} ----
const SVGNS = "http://www.w3.org/2000/svg";
function rich(el, s, fs) {
  el.textContent = "";
  const re = /([_^~])\{([^}]*)\}/g; let last = 0, m; const parts = [];
  while ((m = re.exec(s))) {
    if (m.index > last) parts.push([s.slice(last, m.index), ""]);
    parts.push([m[2], m[1]]); last = re.lastIndex;
  }
  if (last < s.length) parts.push([s.slice(last), ""]);
  let cur = 0;
  for (const [t, k] of parts) {
    const target = k === "^" ? -0.5 * fs : k === "_" ? 0.45 * fs : 0;
    const ts = document.createElementNS(SVGNS, "tspan");
    if (target !== cur) ts.setAttribute("dy", target - cur);
    if (k === "^" || k === "_") ts.setAttribute("font-size", 0.7 * fs);
    if (k === "~") ts.setAttribute("font-style", "italic");
    ts.textContent = t; el.appendChild(ts); cur = target;
  }
}
for (const svg of [leftPlot, rightPlot]) {
  svg.querySelectorAll("text").forEach(t => {
    const s = t.textContent;
    if (/^10\^\{-?\d+\}$/.test(s)) rich(t, s, TICKFS);
  });
}

// ================= OVERLAY: titles, labels, legends =================
const ov = d3.select(page).append("svg").attr("width", 2953).attr("height", 1771)
  .style("left", "0px").attr("font-family", FONT);
function txt(x, y, s, fs, anchor = "middle", rotate = 0, fill = "#000") {
  const t = ov.append("text").attr("x", x).attr("y", y).attr("font-size", fs)
    .attr("text-anchor", anchor).attr("fill", fill).style("white-space", "pre");
  if (rotate) t.attr("transform", `rotate(${rotate},${x},${y})`);
  rich(t.node(), s, fs);
}
// titles
[173, 224, 285].forEach((y, i) => txt(606, y, leftTitle[i], 41));
[186, 237, 285].forEach((y, i) => txt(2168, y, rightTitle[i], 41));
// axis labels
txt(606, 1674, "~{k}  [cpm]", 39, "middle", 0, AX);
txt(2168, 1674, "~{f}  [Hz]", 39, "middle", 0, AX);
txt(70, 937, "Φ (~{k})  [s^{-2} cpm^{-1}]", 39, "middle", -90, AX);
txt(1600, 937, "[Variance Hz^{-1}]", 39, "middle", -90, AX);

// legends
function legend(box, labels, kinds, colors, ys, dys) {
  ov.append("rect").attr("x", box.x).attr("y", box.y).attr("width", box.w).attr("height", box.h)
    .attr("fill", "#fff").attr("stroke", AX).attr("stroke-width", 3);
  labels.forEach((lab, i) => {
    if (kinds[i] === "line") {
      ov.append("line").attr("x1", box.lx1).attr("x2", box.lx2).attr("y1", ys[i]).attr("y2", ys[i])
        .attr("stroke", colors[i]).attr("stroke-width", 7);
    } else {
      ov.append("path").attr("d", d3.symbol(d3.symbolTriangle, 480)())
        .attr("transform", `translate(${(box.lx1 + box.lx2) / 2},${ys[i] + 2})`).attr("fill", colors[i]);
    }
    txt(box.tx, ys[i] + dys[i], lab, 40, "start");
  });
}
legend({x: 1052, y: 320, w: 455, h: 712, lx1: 1061, lx2: 1124, tx: 1132},
  leftLegendLabels,
  ["line","line","line","line","line","line","line","line","tri","tri"],
  [C.blue, C.blue, C.black, C.orange, C.orange, C.black, C.yellow, C.green, C.blue, C.orange],
  [358, 430, 499, 567, 639, 707, 776, 848, 916, 986],
  [7, 7, 21, 7, 7, 21, 7, 7, 13, 13]);
legend({x: 2642, y: 320, w: 252, h: 489, lx1: 2652, lx2: 2713, tx: 2720},
  rightLegendLabels,
  ["line","line","line","line","line","line","line"],
  [C.cyan, C.lime, C.blue, C.orange, C.yellow, C.green, C.black],
  [358, 430, 502, 574, 646, 718, 780],
  [7, 7, 7, 7, 7, 7, 14]);
</script></body></html>
